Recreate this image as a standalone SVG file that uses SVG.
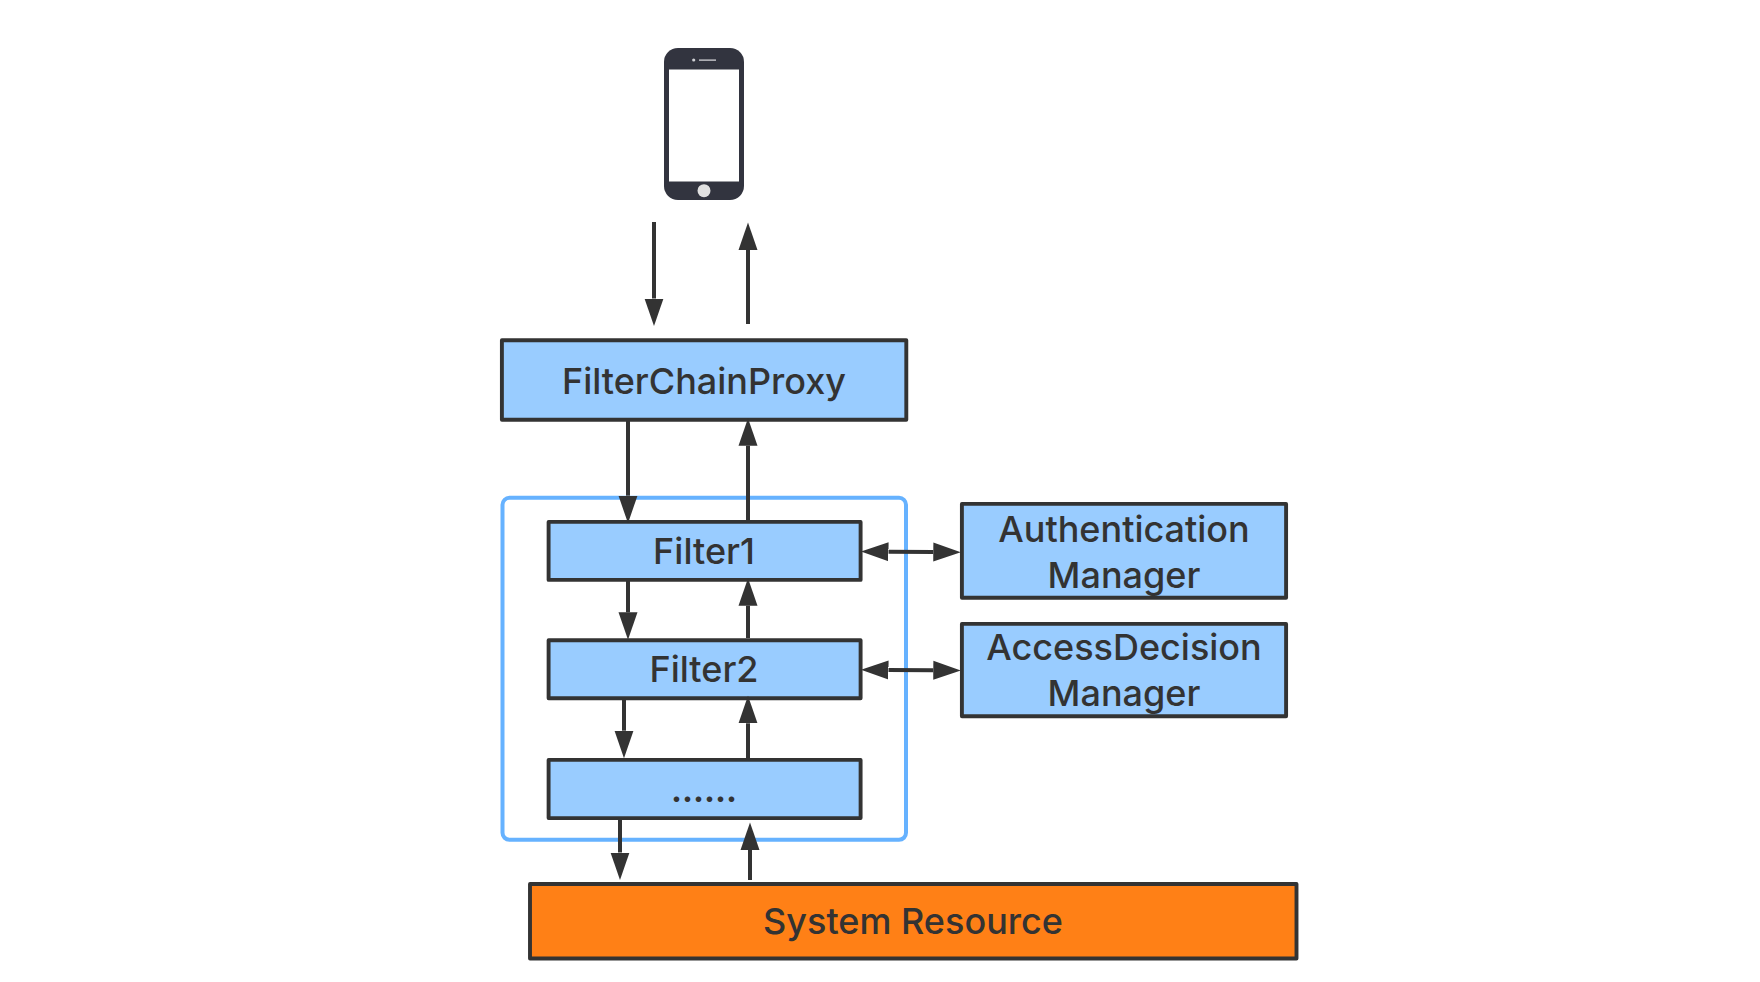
<svg xmlns="http://www.w3.org/2000/svg" width="1760" height="982" viewBox="0 0 1760 982">
<style>
.box{fill:#99ccff;stroke:#333;stroke-width:3.9;stroke-linejoin:round}
.res{fill:#ff8016;stroke:#333;stroke-width:3.9;stroke-linejoin:round}
.group{fill:none;stroke:#66b2ff;stroke-width:4}
.t{font-family:Inter,"Liberation Sans",sans-serif;font-size:36px;font-weight:500;fill:#333;text-anchor:middle}
.dots{font-size:33px;font-weight:700}
.c line{stroke:#333;stroke-width:4;marker-end:url(#a)}
</style>
<defs>
<marker id="a" markerUnits="userSpaceOnUse" markerWidth="28" markerHeight="20" refX="0" refY="10" orient="auto-start-reverse"><path d="M0 .5L27.5 10L0 19.5Z" fill="#333"/></marker>
</defs>
<rect width="1760" height="982" fill="#fff"/>
<g id="phone">
<rect x="664" y="48" width="80" height="152" rx="14" fill="#32343f"/>
<rect x="669" y="69.5" width="70" height="112" fill="#fff"/>
<circle cx="704" cy="190.7" r="6.5" fill="#e0e0e0"/>
<circle cx="693.7" cy="60" r="1.6" fill="#cfd0d4"/>
<rect x="699" y="59.5" width="17" height="1.2" fill="#e0e0e4"/>
</g>
<g id="filter-chain-group"><rect class="group" x="502.5" y="497.8" width="403.5" height="342" rx="7"/></g>
<g id="filterchainproxy"><rect class="box" x="501.9" y="340.2" width="404.4" height="79.6"/><text class="t" x="704" y="394">FilterChainProxy</text></g>
<g id="filter1"><rect class="box" x="548.6" y="521.9" width="312" height="58"/><text class="t" x="704" y="564">Filter1</text></g>
<g id="filter2"><rect class="box" x="548.6" y="640.2" width="312" height="58"/><text class="t" x="704" y="682">Filter2</text></g>
<g id="filter-more"><rect class="box" x="548.6" y="759.9" width="312" height="58.2"/><text class="t dots" x="704" y="802">......</text></g>
<g id="authentication-manager"><rect class="box" x="961.9" y="503.9" width="324.2" height="93.8"/><text class="t" x="1124" y="542">Authentication</text><text class="t" x="1124" y="588">Manager</text></g>
<g id="access-decision-manager"><rect class="box" x="961.9" y="623.9" width="324.2" height="92.4"/><text class="t" x="1124" y="660">AccessDecision</text><text class="t" x="1124" y="706">Manager</text></g>
<g id="system-resource"><rect class="res" x="530" y="884" width="766.5" height="74.5"/><text class="t" x="913" y="933.5">System Resource</text></g>
<g id="connectors" class="c">
<line x1="654" y1="222" x2="654" y2="298.5"/>
<line x1="748" y1="324" x2="748" y2="250"/>
<line x1="628" y1="421" x2="628" y2="495.7"/>
<line x1="748" y1="520" x2="748" y2="445.7"/>
<line x1="628" y1="581" x2="628" y2="612.3"/>
<line x1="748" y1="638" x2="748" y2="605.7"/>
<line x1="624" y1="699" x2="624" y2="730.7"/>
<line x1="748" y1="758" x2="748" y2="723.3"/>
<line x1="620" y1="819" x2="620" y2="852.5"/>
<line x1="750" y1="880" x2="750" y2="850"/>
<line x1="888.5" y1="551.7" x2="933.3" y2="552" style="marker-start:url(#a)"/>
<line x1="888.5" y1="670" x2="933.3" y2="670.3" style="marker-start:url(#a)"/>
</g>
</svg>
